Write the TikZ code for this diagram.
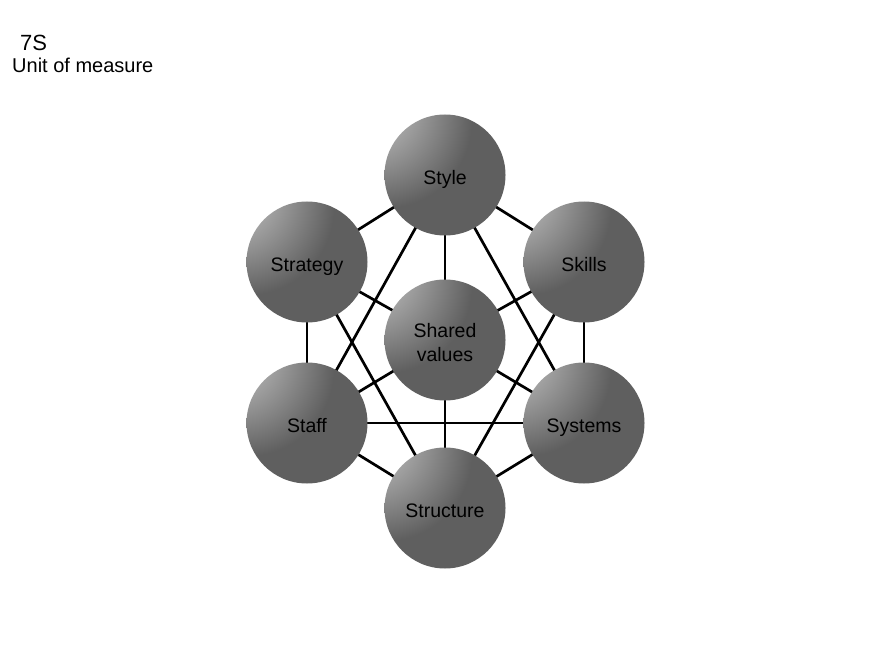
\documentclass[tikz,border=0pt]{standalone}
\usepackage{fontspec}
\setmainfont{Liberation Sans}
\usetikzlibrary{backgrounds}
\definecolor{ballgray}{RGB}{95,95,95}
\definecolor{balllight}{RGB}{232,232,232}
\pgfdeclareradialshading{ballshade}{\pgfpoint{-39bp}{35bp}}{color(0bp)=(balllight); color(10bp)=(balllight!70!ballgray); color(36bp)=(ballgray); color(100bp)=(ballgray)}
\tikzset{
  ball/.style={circle, minimum size=121bp, inner sep=0pt, shading=ballshade, text=black,
    font=\fontsize{19.5bp}{24bp}\selectfont, align=center, text height=18bp, text depth=0bp},
  twoline/.style={text height=42bp, text depth=0bp},
  link/.style={draw=black, line width=2.7bp},
  titletext/.style={anchor=base west, inner sep=0pt, font=\fontsize{20bp}{24bp}\selectfont}
}
\begin{document}
\begin{tikzpicture}[x=1bp, y=-1bp]
\useasboundingbox (0,0) rectangle (882,661);
\node[titletext, font=\fontsize{22bp}{24bp}\selectfont] (t7s) at (20,51) {7S};
\node[titletext] (tunit) at (12,73) {Unit of measure};
\node[ball] (style) at (445,175) {Style};
\node[ball] (strategy) at (307,262) {Strategy};
\node[ball] (skills) at (584,262) {Skills};
\node[ball, twoline] (shared) at (445,340) {Shared\\values};
\node[ball] (staff) at (307,423) {Staff};
\node[ball] (systems) at (584,423) {Systems};
\node[ball] (structure) at (445,508) {Structure};
\begin{pgfonlayer}{background}
\draw[link] (style.center) -- (strategy.center);
\draw[link] (style.center) -- (skills.center);
\draw[link] (strategy.center) -- (staff.center);
\draw[link] (skills.center) -- (systems.center);
\draw[link] (staff.center) -- (structure.center);
\draw[link] (systems.center) -- (structure.center);
\draw[link] (shared.center) -- (style.center);
\draw[link] (shared.center) -- (strategy.center);
\draw[link] (shared.center) -- (skills.center);
\draw[link] (shared.center) -- (staff.center);
\draw[link] (shared.center) -- (systems.center);
\draw[link] (shared.center) -- (structure.center);
\draw[link] (style.center) -- (staff.center);
\draw[link] (style.center) -- (systems.center);
\draw[link] (strategy.center) -- (structure.center);
\draw[link] (skills.center) -- (structure.center);
\draw[link] (staff.center) -- (systems.center);
\end{pgfonlayer}
\end{tikzpicture}
\end{document}
